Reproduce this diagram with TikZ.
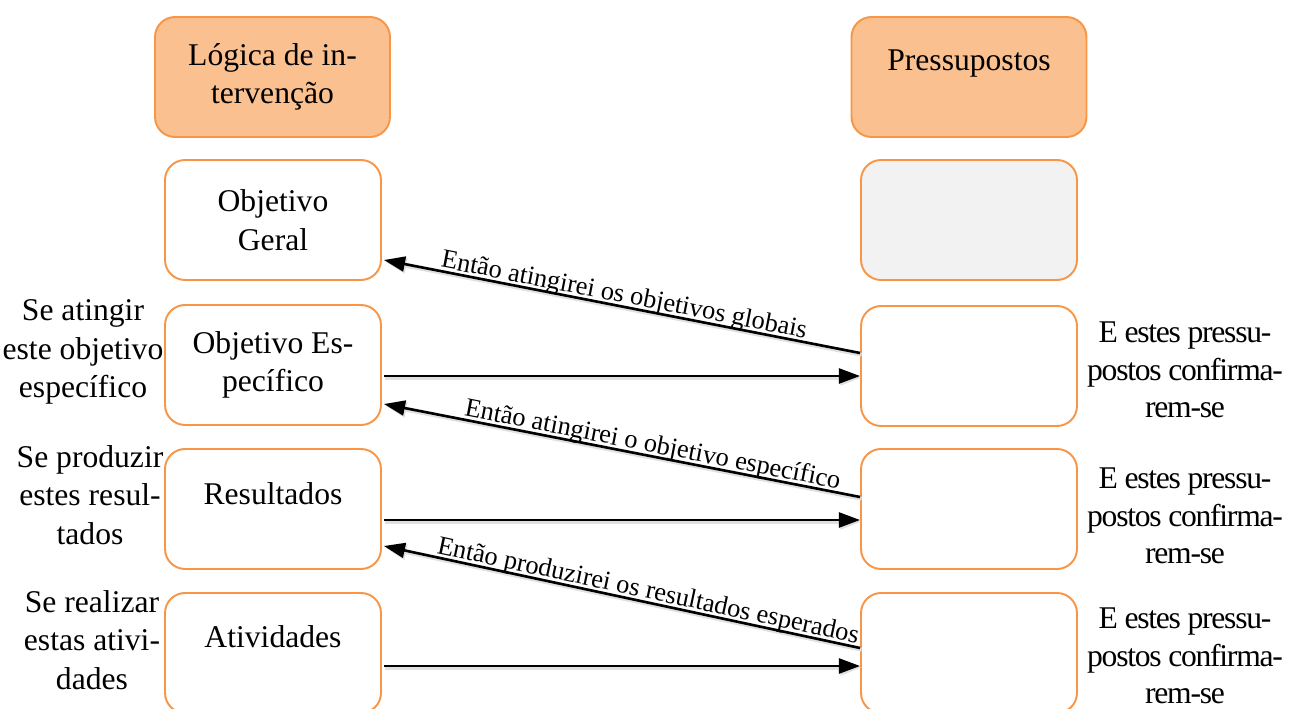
\documentclass[tikz,border=0pt]{standalone}
\usepackage{fontspec}
\setmainfont{Liberation Serif}
\usepackage{xcolor}
\usepackage{tikz}
\usetikzlibrary{arrows.meta, positioning, calc}
\definecolor{laranja}{HTML}{F79646}
\definecolor{laranjaclaro}{HTML}{FAC090}
\definecolor{cinza}{HTML}{F2F2F2}
\tikzset{
	caixa/.style={draw=laranja, line width=1.1pt, rounded corners=0.4cm, minimum width=4.32cm, minimum height=2.4cm, inner sep=0pt, fill=white, align=center, font=\fontsize{18}{22}\selectfont},
	titulo/.style={caixa, fill=laranjaclaro, minimum width=4.7cm},
	texto/.style={align=center, font=\fontsize{18}{22}\selectfont},
	textoapertado/.style={texto, font=\fontsize{18}{21.5}\selectfont\addfontfeature{LetterSpace=-4}},
	seta/.style={line width=1.5pt, -{Triangle[length=12pt, width=8.5pt]},
		preaction={draw=black!12, line width=2.2pt, transform canvas={shift={(0.8pt,-1pt)}}}},
	rotulo/.style={sloped, above, text depth=0pt, inner sep=1.5pt, font=\fontsize{15}{18}\selectfont},
}
\begin{document}
\begin{tikzpicture}[x=0.02cm, y=-0.02cm]
	\clip (0,0) rectangle (1289,709);
	% Boxes and texts:
	\node[titulo](L0) at (272.5, 77){L\'ogica de in-\\terven\c{c}\~ao};
	\node[titulo](R0) at (969, 77){};
	\node[texto](tpres) at (969, 64){Pressupostos};
	\node[caixa](geral) at (273, 220){Objetivo\\Geral};
	\node[caixa](espec) at (273, 365){Objetivo Es-\\pec\'ifico};
	\node[caixa](result) at (273, 509){};
	\node[texto](tres) at (273, 494){Resultados};
	\node[caixa](ativ) at (273, 653){};
	\node[texto](tativ) at (273, 637){Atividades};
	\node[caixa, fill=cinza](p1) at (969, 220){};
	\node[caixa](p2) at (969, 366){};
	\node[caixa](p3) at (969, 509){};
	\node[caixa](p4) at (969, 653){};
	\node[texto](s1) at (83, 352){Se atingir\\este objetivo\\espec\'ifico};
	\node[texto](s2) at (90, 495){Se produzir\\estes resul-\\tados};
	\node[texto](s3) at (92, 640){Se realizar\\estas ativi-\\dades};
	\node[textoapertado](r1) at (1185, 370){E estes pressu-\\postos confirma-\\rem-se};
	\node[textoapertado](r2) at (1185, 516){E estes pressu-\\postos confirma-\\rem-se};
	\node[textoapertado](r3) at (1185, 656){E estes pressu-\\postos confirma-\\rem-se};
	% Arrows:
	\draw[seta] ($(p2.west)+(0,-13)$) -- node[rotulo, pos=0.5]{Ent\~ao atingirei os objetivos globais} ($(geral.east)+(2,40)$);
	\draw[seta] ($(espec.east)+(2,11)$) -- ($(p2.west)+(0,10)$);
	\draw[seta] ($(p3.west)+(0,-12)$) -- node[rotulo, pos=0.44]{Ent\~ao atingirei o objetivo espec\'ifico} ($(espec.east)+(2,39)$);
	\draw[seta] ($(result.east)+(2,11)$) -- ($(p3.west)+(0,11)$);
	\draw[seta] ($(p4.west)+(0,-5)$) -- node[rotulo, pos=0.45]{Ent\~ao produzirei os resultados esperados} ($(result.east)+(2,37)$);
	\draw[seta] ($(ativ.east)+(2,13)$) -- ($(p4.west)+(0,13)$);
\end{tikzpicture}
\end{document}
